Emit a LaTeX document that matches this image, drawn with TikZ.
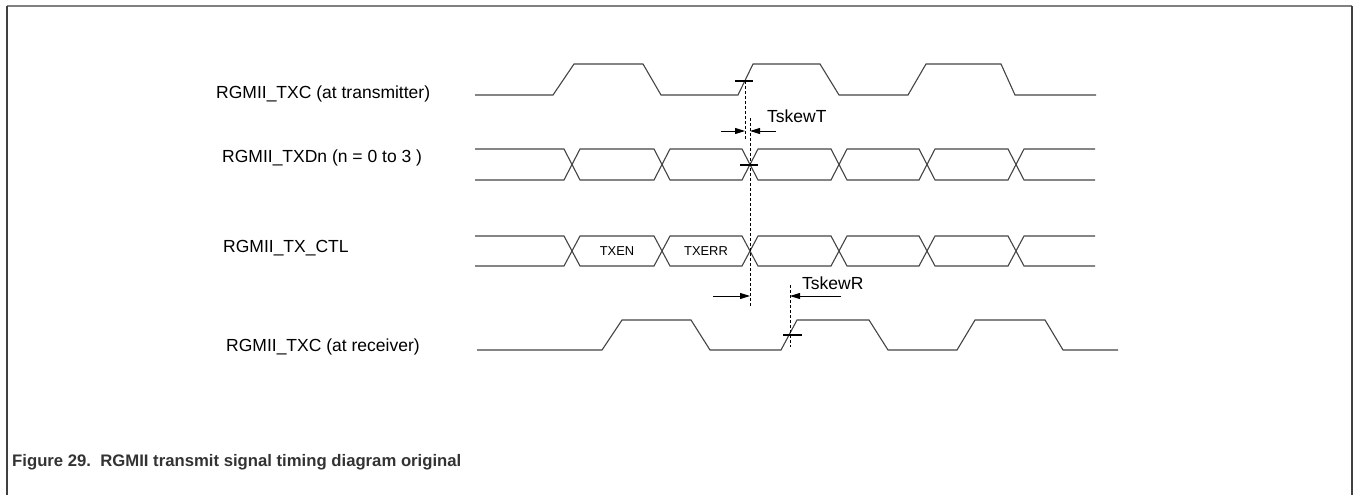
\documentclass[tikz,border=0pt]{standalone}
\usepackage{fontspec}
\setmainfont{Liberation Sans}
\usetikzlibrary{arrows.meta,positioning}
\definecolor{wavegray}{HTML}{444444}
\definecolor{capgray}{HTML}{333333}

\begin{document}
\begin{tikzpicture}[
    x=1pt, y=-1pt,
    wave/.style={draw=wavegray, line width=1.1pt},
    tick/.style={draw=black, line width=1.6pt},
    guide/.style={draw=black, dashed, dash pattern=on 2.5pt off 2.5pt, line width=0.9pt},
    skew/.style={-{Triangle[length=10pt, width=6pt]}, line width=0.9pt},
    sig/.style={anchor=west, inner sep=0pt, font=\fontsize{17.5}{20}\selectfont},
    field/.style={inner sep=0pt, font=\fontsize{12.9}{15}\selectfont}
]
    \useasboundingbox (0,0) rectangle (1354,495);
    \draw[gray, line width=1.4pt] (7,6) -- (1352,6);
    \draw[black!75, line width=1.4pt] (7,6) -- (7,495) (1352,6) -- (1352,495);

    \node[sig] (txctx) at (216,94) {RGMII\_TXC (at transmitter)};
    \node[sig] (txd) at (222,158) {RGMII\_TXDn (n = 0 to 3 )};
    \node[sig] (ctl) at (223,248) {RGMII\_TX\_CTL};
    \node[sig] (txcrx) at (226,347) {RGMII\_TXC (at receiver)};

    \draw[wave] (475,95) -- (553,95) -- (574,64) -- (643,64) -- (661,95) -- (738,95) -- (753,64)
        -- (820,64) -- (839,95) -- (908,95) -- (926,64) -- (1001,64) -- (1015,95) -- (1096,95);

    \draw[wave] (475,149) -- (564,149) -- (572,164.5) -- (564,180) -- (475,180);
    \draw[wave] (475,236) -- (564,236) -- (572,251) -- (564,266) -- (475,266);
    \foreach \a/\b in {572/662, 662/750, 750/839, 839/927, 927/1016} {
        \draw[wave] (\a,164.5) -- (\a+8,149) -- (\b-8,149) -- (\b,164.5) -- (\b-8,180) -- (\a+8,180) -- cycle;
        \draw[wave] (\a,251) -- (\a+8,236) -- (\b-8,236) -- (\b,251) -- (\b-8,266) -- (\a+8,266) -- cycle;
    }
    \draw[wave] (1095,149) -- (1024,149) -- (1016,164.5) -- (1024,180) -- (1095,180);
    \draw[wave] (1095,236) -- (1024,236) -- (1016,251) -- (1024,266) -- (1095,266);
    \node[field] (txen) at (617,251) {TXEN};
    \node[field] (txerr) at (706,251) {TXERR};

    \draw[wave] (477,350) -- (602,350) -- (622,320) -- (691,320) -- (710,350) -- (781,350) -- (797,320)
        -- (869,320) -- (888,350) -- (957,350) -- (975,320) -- (1045,320) -- (1063,350) -- (1118,350);

    \draw[tick] (735,81) -- (753,81);
    \draw[tick] (740,165) -- (758,165);
    \draw[tick] (783,335) -- (802,335);

    \coordinate (clkedge) at (745,81);
    \coordinate (clkend) at (745,140);
    \coordinate (dattop) at (750,118);
    \coordinate (datbot) at (750,307);
    \coordinate (rxtop) at (790,285);
    \coordinate (rxbot) at (790,347);
    \draw[guide] (clkedge) -- (clkend);
    \draw[guide] (dattop) -- (datbot);
    \draw[guide] (rxtop) -- (rxbot);

    \coordinate (tl) at (721,131);
    \coordinate (tr) at (776,131);
    \draw[skew] (tl) -- (clkend |- tl);
    \draw[skew] (tr) -- (dattop |- tr);
    \node[sig] (tskewt) at (767,116) {TskewT};

    \coordinate (rl) at (713,296);
    \coordinate (rr) at (841,296);
    \draw[skew] (rl) -- (datbot |- rl);
    \draw[skew] (rr) -- (rxtop |- rr);
    \node[sig] (tskewr) at (802,283) {TskewR};

    \node[anchor=west, inner sep=0pt, text=capgray, font=\bfseries\fontsize{16.7}{20}\selectfont] (caption) at (12,462)
        {Figure 29.\ \ RGMII transmit signal timing diagram original};
\end{tikzpicture}
\end{document}
